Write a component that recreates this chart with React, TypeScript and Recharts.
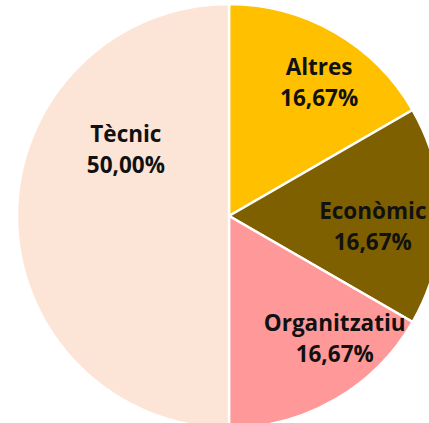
import { Cell, Pie, PieChart } from "recharts";

const categories = ["Altres", "Econòmic", "Organitzatiu", "Tècnic"];
const values = [1, 1, 1, 3];

const SLICE_COLORS: Record<string, string> = {
  Altres: "#FFC000",
  "Econòmic": "#7F6000",
  Organitzatiu: "#FF9999",
  "Tècnic": "#FCE4D6",
};

// label anchor: fraction of radius and angle nudge (deg) from the slice mid-angle
const LABEL_SPOT: Record<string, [number, number]> = {
  Altres: [0.76, -4],
  "Econòmic": [0.68, -4],
  Organitzatiu: [0.76, 11],
  "Tècnic": [0.58, -33],
};

const RADIAN = Math.PI / 180;
const total = values.reduce((a, b) => a + b, 0);

const data = categories.map((name, i) => ({ name, value: values[i] }));

function renderLabel(props: any) {
  const { cx, cy, midAngle, outerRadius, name, value } = props;
  const [frac, nudge] = LABEL_SPOT[name] ?? [0.7, 0];
  const a = (midAngle + nudge) * RADIAN;
  const r = outerRadius * frac;
  const x = cx + r * Math.cos(a);
  const y = cy - r * Math.sin(a);
  const pct = ((value / total) * 100).toFixed(2).replace(".", ",") + "%";
  return (
    <text
      x={x}
      y={y}
      textAnchor="middle"
      fill="#111"
      fontFamily="'Open Sans', sans-serif"
      fontWeight={700}
      fontSize={22.5}
    >
      <tspan x={x} dy={-7}>
        {name}
      </tspan>
      <tspan x={x} dy={31}>
        {pct}
      </tspan>
    </text>
  );
}

export default function App() {
  return (
    <div style={{ position: "absolute", left: 0, top: 0, width: 429, height: 423, background: "#fff" }}>
      <PieChart width={429} height={423} margin={{ top: 0, right: 0, bottom: 0, left: 0 }}>
        <Pie
          data={data}
          dataKey="value"
          nameKey="name"
          cx={229}
          cy={216}
          outerRadius={212}
          startAngle={90}
          endAngle={-270}
          stroke="#fff"
          strokeWidth={2.5}
          label={renderLabel}
          labelLine={false}
          isAnimationActive={false}
        >
          {data.map((d) => (
            <Cell key={d.name} fill={SLICE_COLORS[d.name]} />
          ))}
        </Pie>
      </PieChart>
    </div>
  );
}
